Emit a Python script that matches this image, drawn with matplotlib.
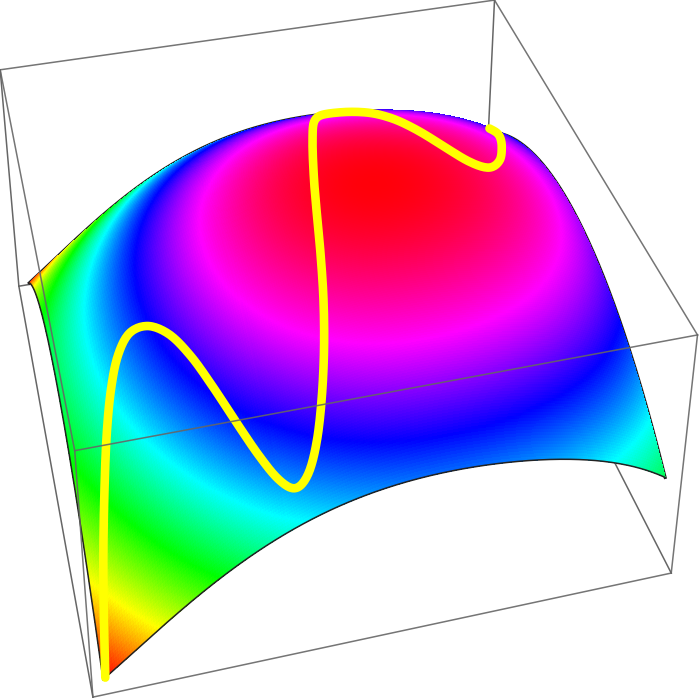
import numpy as np, matplotlib
matplotlib.use('Agg')
import matplotlib.pyplot as plt
from matplotlib.colors import hsv_to_rgb

# Height profiles read from the surface's edges (normalised, height == hue)
U_PTS=[0,.135,.222,.308,.394,.48,.567,.655,.744,.836,.906,1,.128,.229,.346,.454,.547,.612,.722,.811,.924]
U_H=[.01,.237,.38,.483,.548,.591,.613,.614,.589,.541,.482,.393,.222,.382,.501,.571,.602,.614,.601,.571,.508]
V_PTS=[0,.076,.183,.219,.323,.445,.569,.702,.852,1,.513,.787,.982]
V_H=[0,.08,.234,.262,.33,.383,.382,.332,.20,.02,.36,.267,.03]
# Yellow curve on the surface, in surface coordinates
CURVE_U=[.004,.015,.027,.046,.066,.085,.108,.131,.166,.197,.224,.247,.274,.297,.324,.344,.371,.394,.417,.44,.458,.475,.49,.506,.541,.583,.615,.665,.700,.726,.753,.78,.815,.849,.888,.915,.942,.95,.942]
CURVE_V=[0,.066,.139,.22,.313,.378,.43,.466,.44,.394,.32,.245,.17,.107,.062,.036,.048,.085,.139,.215,.285,.38,.463,.552,.703,.857,.935,.935,.875,.795,.703,.618,.56,.531,.579,.653,.74,.775,.803]
# Camera (perspective projection of the unit box)
CAMERA=[[0.158701,-0.0438474,0.0007894,-0.0704456],[0.0284162,0.112474,0.067296,-0.0942384],[0,0,0,-2.48419],[0.0710812,0.269744,-0.0743704,1.0]]
PAD=.02

M=np.array(CAMERA)
fig=plt.figure(figsize=(7,7),dpi=100)
ax=fig.add_axes([0,0,1,1],projection='3d',computed_zorder=False)
ax.set_xlim(0,1);ax.set_ylim(0,1);ax.set_zlim(0,1)
ax.get_proj=lambda: M
ax.set_axis_off()

fu=np.poly1d(np.polyfit(U_PTS,U_H,5)); fv=np.poly1d(np.polyfit(V_PTS,V_H,4))
def height(u,v): return fu(u)+fv(v)
d3=lambda a:PAD+(1-2*PAD)*a

uu=np.linspace(0,1,260)
U,W=np.meshgrid(uu,uu)
ZZ=height(U,W)
h=np.clip(ZZ,0,1)
fc=hsv_to_rgb(np.dstack([h,np.ones_like(h),np.ones_like(h)]))
ax.plot_surface(d3(U),d3(W),d3(ZZ),facecolors=fc,rstride=1,cstride=1,linewidth=0,antialiased=False,shade=False,zorder=2)

for u,v in [(uu,0*uu+1),(0*uu+1,uu)]:
    ax.plot(d3(u),d3(v),d3(height(u,v)),color='#222222',lw=2.2,zorder=1)
for u,v in [(uu,0*uu),(0*uu,uu)]:
    ax.plot(d3(u),d3(v),d3(height(u,v)),color='#222222',lw=1.1,zorder=2.5)

def smooth(a,m=12):
    a=np.r_[a[0],(a[:-2]+2*a[1:-1]+a[2:])/4,a[-1]]
    a=np.r_[2*a[0]-a[1],a,2*a[-1]-a[-2]]
    t=np.linspace(0,1,m,endpoint=False)[:,None]
    p0,p1,p2,p3=a[:-3],a[1:-2],a[2:-1],a[3:]
    s=.5*(2*p1+(p2-p0)*t+(2*p0-5*p1+4*p2-p3)*t**2+(3*p1-p0-3*p2+p3)*t**3)
    return np.r_[s.T.ravel(),a[-2]]
yu=smooth(np.array(CURVE_U));yv=smooth(np.array(CURVE_V))
ax.plot(d3(yu),d3(yv),d3(height(yu,yv)),color='#ffff00',lw=6.2,solid_capstyle='round',solid_joinstyle='round',zorder=3)

C=np.array([[0,1,1],[1,1,1],[1,0,1],[0,0,1],[0,1,0],[1,1,0],[1,0,0],[0,0,0]],float)
back=[(0,4),(1,5),(4,5),(5,6),(7,4)]
front=[(0,1),(1,2),(2,3),(3,0),(6,7),(2,6),(3,7)]
for a,b in back: ax.plot(*np.c_[C[a],C[b]],color='#666666',lw=1.1,zorder=0)
for a,b in front: ax.plot(*np.c_[C[a],C[b]],color='#666666',lw=1.1,alpha=.9,zorder=5)
fig.savefig('out.png')
